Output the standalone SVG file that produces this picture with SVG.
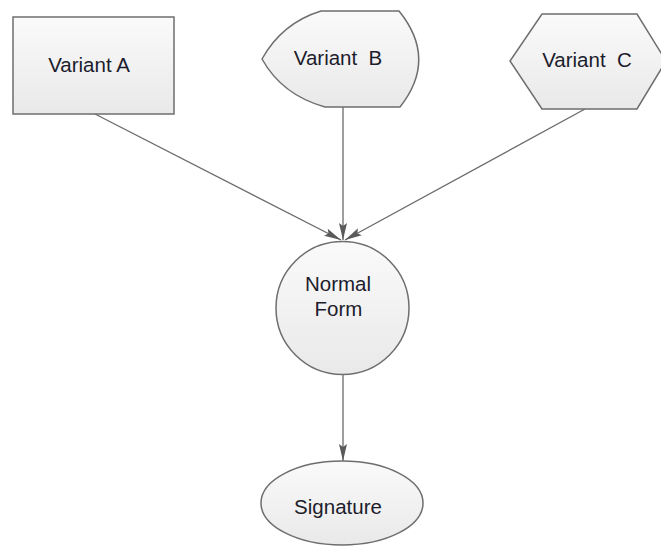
<svg xmlns="http://www.w3.org/2000/svg" width="661" height="553" viewBox="0 0 661 553">
<defs>
<linearGradient id="g" x1="0" y1="0" x2="0" y2="1">
<stop offset="0" stop-color="#fafafa"/>
<stop offset="1" stop-color="#e9e9e9"/>
</linearGradient>
<marker id="ah" markerUnits="userSpaceOnUse" markerWidth="20" markerHeight="12" refX="17" refY="5" orient="auto">
<path d="M0,1 L17,5 L0,9 L3,5 Z" fill="#5a5a5a"/>
</marker>
</defs>
<style>
.n{fill:url(#g);stroke:#6e6e6e;stroke-width:1.5}
.t{font-family:"Liberation Sans",Arial,sans-serif;font-size:20.5px;fill:#1c1c2c;text-anchor:middle}
.c{stroke:#6a6a6a;stroke-width:1.3;fill:none;marker-end:url(#ah)}
</style>
<g id="connectors">
<line class="c" x1="95" y1="114" x2="341" y2="240"/>
<line class="c" x1="343" y1="107" x2="343" y2="240"/>
<line class="c" x1="585" y1="109" x2="345" y2="240"/>
<line class="c" x1="343" y1="374" x2="343" y2="461"/>
</g>
<g id="variantA">
<rect class="n" x="13" y="17" width="161" height="97"/>
<text class="t" x="89" y="72">Variant A</text>
</g>
<g id="variantB">
<path class="n" d="M321,11 L399,11 Q438,59 400,107 L325,107 Q282,95 262,59 Q282,23 321,11 Z"/>
<text class="t" x="338" y="65" xml:space="preserve">Variant  B</text>
</g>
<g id="variantC">
<path class="n" d="M542,14 L637,14 L666,61 L637,109 L542,109 L510,61 Z"/>
<text class="t" x="587" y="67" xml:space="preserve">Variant  C</text>
</g>
<g id="normalForm">
<circle class="n" cx="342.5" cy="308" r="66.5"/>
<text class="t" x="338" y="290.5">Normal</text>
<text class="t" x="338.5" y="315.5">Form</text>
</g>
<g id="signature">
<ellipse class="n" cx="342" cy="503" rx="81" ry="42"/>
<text class="t" x="338" y="514">Signature</text>
</g>
</svg>
